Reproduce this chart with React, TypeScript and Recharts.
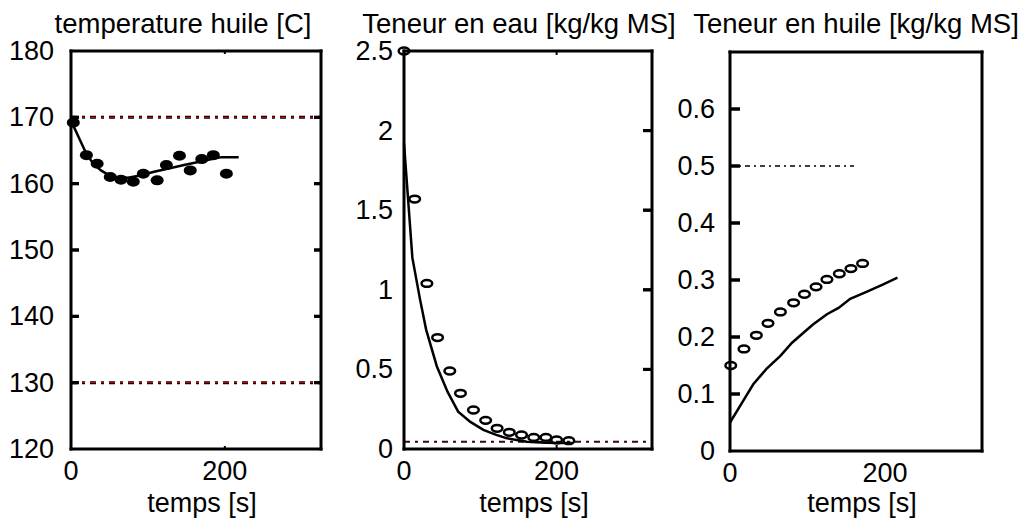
import {
  ComposedChart,
  Line,
  Scatter,
  XAxis,
  YAxis,
  ReferenceLine,
} from "recharts";

const FONT = '"Liberation Sans", Arial, Helvetica, sans-serif';

// shared axis ticks
const timeTicks = [0, 200];
const tempTicks = [120, 130, 140, 150, 160, 170, 180];
const waterTicks = [0, 0.5, 1, 1.5, 2, 2.5];
const oilTicks = [0, 0.1, 0.2, 0.3, 0.4, 0.5, 0.6];

// temperature huile
const tempMeasT = [3, 20, 34, 51, 65, 81, 94, 112, 124, 141, 155, 170, 185, 202];
const tempMeas = [169.2, 164.3, 163.0, 161.0, 160.6, 160.3, 161.5, 160.5, 162.8, 164.2, 162.0, 163.7, 164.3, 161.5];
const tempModelT = [0, 10, 20, 29, 39, 49, 59, 74, 88, 108, 127, 147, 167, 186, 196, 218];
const tempModel = [169.5, 167, 164.5, 163, 162, 161.3, 161, 160.9, 161.2, 161.8, 162.3, 162.8, 163.3, 163.8, 164, 164];
const tempLimits = [170, 130];

// teneur en eau
const waterMeasT = [0, 14, 30, 44, 60, 74, 91, 107, 122, 138, 154, 170, 186, 200, 216];
const waterMeas = [2.5, 1.57, 1.04, 0.7, 0.49, 0.35, 0.245, 0.18, 0.13, 0.105, 0.088, 0.073, 0.073, 0.057, 0.052];
const waterModelT = [0, 11, 21, 29, 43, 57, 71, 87, 104, 120, 135, 161, 185, 205, 220];
const waterModel = [1.92, 1.2, 0.94, 0.75, 0.52, 0.36, 0.235, 0.17, 0.12, 0.09, 0.067, 0.046, 0.04, 0.038, 0.037];
const waterLimit = 0.045;

// teneur en huile
const oilMeasT = [1, 18, 34, 49, 65, 82, 96, 111, 125, 141, 156, 171];
const oilMeas = [0.15, 0.179, 0.203, 0.224, 0.244, 0.26, 0.275, 0.288, 0.301, 0.311, 0.32, 0.329];
const oilModelT = [0, 17, 30, 47, 65, 80, 107, 125, 140, 155, 176, 197, 216];
const oilModel = [0.05, 0.088, 0.117, 0.144, 0.167, 0.19, 0.222, 0.24, 0.251, 0.267, 0.279, 0.292, 0.304];
const oilLimit = 0.5;
const oilLimitEnd = 160;

const X_MAX = 325;
const H = 523;

const zip = (xs: number[], ys: number[]) => xs.map((x, i) => ({ x, y: ys[i] }));

const frame = { stroke: "#000", strokeWidth: 3, strokeLinecap: "square" as const };
const txt = { fontSize: 27, fontFamily: FONT, fill: "#000" };

const leftTick = (gap: number) => (p: any) => (
  <text x={p.x - gap} y={p.y} dy={9} textAnchor="end" {...txt}>
    {String(p.payload.value)}
  </text>
);

const bottomTick = (p: any) => (
  <text x={p.x} y={p.y + 31} textAnchor="middle" {...txt}>
    {String(p.payload.value)}
  </text>
);

const noLabel = () => <g />;

const filledDot = (p: any) => <ellipse cx={p.cx} cy={p.cy} rx={6.5} ry={5} fill="#000" />;
const openDot = (p: any) => (
  <ellipse cx={p.cx} cy={p.cy} rx={5.3} ry={3.4} fill="none" stroke="#000" strokeWidth={2.5} />
);

// small stub drawn at a scatter point, dx/dy in px
const stub = (dx: number, dy: number, w: number) => (p: any) => (
  <path d={`M${p.cx},${p.cy}l${dx},${dy}`} stroke="#000" strokeWidth={w} fill="none" />
);

interface PanelProps {
  left: number;
  width: number;
  plotLeft: number;
  plotRight: number;
  plotTop: number;
  plotBottom: number;
  yDomain: [number, number];
  yTicks: number[];
  leftLen: number;
  rightLen: number;
  gap: number;
  mark: number;
  title: string;
  titleX: number;
  children: React.ReactNode;
}

// inward tick marks of the frame
function frameTicks(p: PanelProps) {
  const [y0, y1] = p.yDomain;
  const inner = p.yTicks.filter((v) => v > y0 && v < y1);
  const marks = timeTicks.filter((t) => t > 0);
  const xPerPx = X_MAX / (p.plotRight - p.plotLeft);
  const out: React.ReactNode[] = [];
  if (p.leftLen > 0) {
    out.push(
      <Scatter
        key="sl"
        data={inner.map((v) => ({ x: 0.001, y: v }))}
        dataKey="y"
        shape={stub(p.leftLen, 0, 3)}
        isAnimationActive={false}
      />
    );
    inner.forEach((v) =>
      out.push(
        <ReferenceLine
          key={"gl" + v}
          segment={[{ x: 0.001, y: v }, { x: p.leftLen * xPerPx, y: v }]}
          stroke="#000"
          strokeWidth={3}
        />
      )
    );
  }
  if (p.rightLen > 0) {
    out.push(
      <Scatter
        key="sr"
        data={inner.map((v) => ({ x: X_MAX, y: v }))}
        dataKey="y"
        shape={stub(-p.rightLen, 0, 3)}
        isAnimationActive={false}
      />
    );
    inner.forEach((v) =>
      out.push(
        <ReferenceLine
          key={"gr" + v}
          segment={[{ x: X_MAX - p.rightLen * xPerPx, y: v }, { x: X_MAX, y: v }]}
          stroke="#000"
          strokeWidth={3}
        />
      )
    );
  }
  if (p.mark > 0) {
    out.push(
      <Scatter
        key="sb"
        data={marks.map((t) => ({ x: t, y: y0 }))}
        dataKey="y"
        shape={stub(0, -p.mark, 2)}
        isAnimationActive={false}
      />
    );
    out.push(
      <Scatter
        key="st"
        data={marks.map((t) => ({ x: t, y: y1 }))}
        dataKey="y"
        shape={stub(0, p.mark, 2)}
        isAnimationActive={false}
      />
    );
  }
  return out;
}

function Panel(props: PanelProps) {
  const { left, width, plotLeft, plotRight, plotTop, plotBottom, yDomain, yTicks } = props;
  return (
    <div style={{ position: "absolute", left, top: 0, width, height: H }}>
      <div
        style={{
          position: "absolute",
          left: props.titleX - 200,
          width: 400,
          top: 11,
          textAlign: "center",
          fontSize: 27.5,
          lineHeight: "26px",
          fontFamily: FONT,
          color: "#000",
          whiteSpace: "nowrap",
        }}
      >
        {props.title}
      </div>
      <ComposedChart
        width={width}
        height={H}
        margin={{ top: plotTop - 1, left: plotLeft - 1, right: width - plotRight - 1, bottom: 0 }}
      >
        <XAxis
          dataKey="x"
          type="number"
          domain={[0, X_MAX]}
          ticks={timeTicks}
          height={H - plotBottom}
          tickSize={0}
          tickMargin={0}
          tickLine={false}
          axisLine={frame}
          tick={bottomTick}
          label={{
            value: "temps [s]",
            position: "insideBottom",
            offset: 11,
            dx: 6,
            ...txt,
          }}
        />
        <XAxis
          xAxisId="top"
          orientation="top"
          dataKey="x"
          type="number"
          domain={[0, X_MAX]}
          ticks={timeTicks}
          height={1}
          tickLine={false}
          axisLine={frame}
          tick={noLabel}
        />
        <YAxis
          type="number"
          domain={yDomain}
          ticks={yTicks}
          width={1}
          tickSize={0}
          tickMargin={0}
          tickLine={false}
          axisLine={frame}
          tick={leftTick(props.gap)}
        />
        <YAxis
          yAxisId="right"
          orientation="right"
          type="number"
          domain={yDomain}
          ticks={yTicks}
          width={1}
          tickLine={false}
          axisLine={frame}
          tick={noLabel}
        />
        {props.children}
        {frameTicks(props)}
      </ComposedChart>
    </div>
  );
}

export default function App() {
  return (
    <div style={{ position: "absolute", left: 0, top: 0, width: 1026, height: H, background: "#fff" }}>
      <Panel
        left={0}
        width={340}
        plotLeft={71}
        plotRight={321}
        plotTop={51}
        plotBottom={449}
        yDomain={[120, 180]}
        yTicks={tempTicks}
        leftLen={8}
        rightLen={7}
        gap={17}
        mark={3}
        title="temperature huile [C]"
        titleX={183}
      >
        {tempLimits.map((v) => (
          <ReferenceLine key={"k" + v} y={v} stroke="#000" strokeWidth={3} strokeDasharray="6 5 3 5" />
        ))}
        {tempLimits.map((v) => (
          <ReferenceLine key={"q" + v} y={v} stroke="#e00000" strokeWidth={1} strokeDasharray="6 5 3 5" />
        ))}
        <Line
          data={zip(tempModelT, tempModel)}
          dataKey="y"
          type="linear"
          stroke="#000"
          strokeWidth={2.5}
          dot={false}
          activeDot={false}
          isAnimationActive={false}
        />
        <Scatter data={zip(tempMeasT, tempMeas)} dataKey="y" shape={filledDot} isAnimationActive={false} />
      </Panel>
      <Panel
        left={340}
        width={340}
        plotLeft={64}
        plotRight={312}
        plotTop={51}
        plotBottom={449}
        yDomain={[0, 2.5]}
        yTicks={waterTicks}
        leftLen={0}
        rightLen={9}
        gap={11}
        mark={4}
        title="Teneur en eau [kg/kg MS]"
        titleX={179}
      >
        <ReferenceLine y={waterLimit} stroke="#3a0808" strokeWidth={2} strokeDasharray="6 5 3 5" />
        <Line
          data={zip(waterModelT, waterModel)}
          dataKey="y"
          type="linear"
          stroke="#000"
          strokeWidth={2.5}
          dot={false}
          activeDot={false}
          isAnimationActive={false}
        />
        <Scatter data={zip(waterMeasT, waterMeas)} dataKey="y" shape={openDot} isAnimationActive={false} />
      </Panel>
      <Panel
        left={665}
        width={361}
        plotLeft={65}
        plotRight={317}
        plotTop={52}
        plotBottom={451}
        yDomain={[0, 0.7]}
        yTicks={oilTicks}
        leftLen={10}
        rightLen={0}
        gap={15}
        mark={0}
        title="Teneur en huile [kg/kg MS]"
        titleX={191}
      >
        <ReferenceLine
          segment={[
            { x: 0, y: oilLimit },
            { x: oilLimitEnd, y: oilLimit },
          ]}
          stroke="#000"
          strokeWidth={1.5}
          strokeDasharray="5 4 2 4"
        />
        <Line
          data={zip(oilModelT, oilModel)}
          dataKey="y"
          type="linear"
          stroke="#000"
          strokeWidth={2.5}
          dot={false}
          activeDot={false}
          isAnimationActive={false}
        />
        <Scatter data={zip(oilMeasT, oilMeas)} dataKey="y" shape={openDot} isAnimationActive={false} />
      </Panel>
    </div>
  );
}
